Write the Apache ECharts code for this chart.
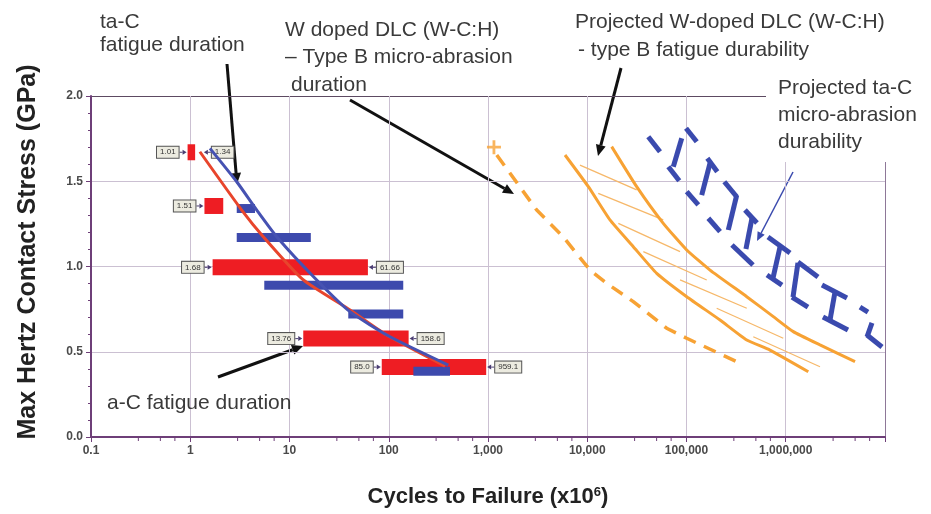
<!DOCTYPE html>
<html><head><meta charset="utf-8">
<script src="https://cdn.jsdelivr.net/npm/echarts@6/dist/echarts.min.js"></script>
<style>html,body{margin:0;padding:0;background:#fff}#c{width:931px;height:514px}</style>
</head><body><div id="c"></div>
<script>
// ---------- DATA ----------
// a-C fatigue duration bars: [start cycles, end cycles, stress GPa]
const aCBars = [
  [0.94, 1.12, 1.67],
  [1.39, 2.15, 1.355],
  [1.68, 61.66, 0.995],
  [13.76, 158.6, 0.577],
  [85.0, 959.1, 0.41]
];
// ta-C fatigue duration bars
const taCBars = [
  [2.94, 4.49, 1.34],
  [2.94, 16.4, 1.17],
  [5.57, 140, 0.89],
  [39.1, 140, 0.722],
  [177, 414, 0.385]
];
// value call-outs: [anchor cycles, stress, text, side(-1 left / 1 right)]
const barLabels = [
  [0.94, 1.67, '1.01', -1],
  [1.34, 1.67, '1.34', 1],
  [1.39, 1.355, '1.51', -1],
  [1.68, 0.995, '1.68', -1],
  [61.66, 0.995, '61.66', 1],
  [13.76, 0.577, '13.76', -1],
  [158.6, 0.577, '158.6', 1],
  [85.0, 0.41, '85.0', -1],
  [959.1, 0.41, '959.1', 1]
];
// fitted curves
const aCFitX = [1.25, 3.30, 5.44, 13.8, 40.7, 95.3, 369];
const aCFitY = [1.673, 1.331, 1.175, 0.921, 0.745, 0.598, 0.416];
const taCFitX = [1.58, 2.94, 4.68, 7.43, 18.8, 40.7, 103, 398];
const taCFitY = [1.693, 1.497, 1.331, 1.175, 0.921, 0.735, 0.588, 0.422];
// W doped DLC type B micro-abrasion duration (dashed) + start marker
const wMicroStart = [1148, 1.70];
const wMicroX = [1225, 3097, 5700, 10660, 15700, 29100, 63100, 100500, 320600];
const wMicroY = [1.654, 1.331, 1.175, 0.979, 0.901, 0.794, 0.638, 0.579, 0.442];
// Projected W-doped DLC fatigue durability band
const wFatLowX = [5970, 10260, 16940, 29100, 50100, 100500, 217800, 404600, 693400, 1687000];
const wFatLowY = [1.654, 1.468, 1.273, 1.116, 0.960, 0.823, 0.686, 0.569, 0.510, 0.383];
const wFatHighX = [17620, 31480, 58340, 100500, 172600, 404600, 749900, 1191000, 2213000, 4989000];
const wFatHighY = [1.703, 1.468, 1.253, 1.097, 0.979, 0.823, 0.706, 0.618, 0.540, 0.442];
// hatch strokes inside the band: [x1, y1, x2, y2]
const wFatHatch = [
  [8450, 1.595, 31480, 1.449],
  [12910, 1.429, 58340, 1.273],
  [20560, 1.253, 86100, 1.087],
  [36730, 1.087, 159900, 0.921],
  [86100, 0.921, 404600, 0.755],
  [201400, 0.755, 944000, 0.579],
  [471000, 0.588, 2213000, 0.412]
];
// Projected ta-C micro-abrasion durability strokes: [x1, y1, x2, y2]
const taCMicro = [
  [41210, 1.761, 54080, 1.673],
  [98860, 1.811, 126800, 1.732],
  [89540, 1.752, 73620, 1.585],
  [65610, 1.585, 84530, 1.503],
  [162200, 1.635, 204200, 1.556],
  [172600, 1.607, 142300, 1.419],
  [100500, 1.439, 131500, 1.361],
  [240400, 1.497, 320600, 1.409],
  [320600, 1.419, 263600, 1.214],
  [166000, 1.283, 217800, 1.204],
  [388200, 1.331, 512900, 1.255],
  [457100, 1.284, 397200, 1.103],
  [287100, 1.126, 467700, 1.009],
  [662200, 1.173, 1104000, 1.079],
  [875000, 1.114, 744700, 0.933],
  [647100, 0.950, 916200, 0.891],
  [1327000, 1.026, 2113000, 0.938],
  [1327000, 1.021, 1183000, 0.821],
  [1156000, 0.821, 1675000, 0.762],
  [2317000, 0.891, 4140000, 0.815],
  [3133000, 0.850, 2793000, 0.686],
  [2371000, 0.704, 4236000, 0.628],
  [5598000, 0.762, 6739000, 0.733],
  [7392000, 0.669, 6590000, 0.587],
  [6590000, 0.598, 9333000, 0.528]
];
const xMinorTicks = [0.3,0.5,0.7,3,5,7,30,50,70,300,500,700,3000,5000,7000,30000,50000,70000,300000,500000,700000,3e6,5e6,7e6];

// ---------- CHART ----------
const FONT = "'Liberation Sans', Arial, sans-serif";
const chart = echarts.init(document.getElementById('c'), null, {renderer: 'canvas'});

function zip(xs, ys) { return xs.map((x, i) => [x, ys[i]]); }

function barSeries(name, bars, h, color, z) {
  return {
    name, type: 'custom', z, silent: true,
    data: bars,
    encode: {x: [0, 1], y: 2},
    renderItem(params, api) {
      const p1 = api.coord([api.value(0), api.value(2)]);
      const p2 = api.coord([api.value(1), api.value(2)]);
      return {type: 'rect', shape: {x: p1[0], y: p1[1] - h / 2, width: p2[0] - p1[0], height: h}, style: {fill: color}};
    }
  };
}

function lineSeries(name, data, color, width, type, smooth, z) {
  return {
    name, type: 'line', data, smooth: smooth || false, symbol: 'none', showSymbol: false, silent: true, z: z || 3,
    lineStyle: {color, width, type: type || 'solid', cap: 'butt'}
  };
}

const series = [
  barSeries('a-C bars', aCBars, 16, '#ee1d23', 3),
  {
    name: 'labels', type: 'custom', z: 3, silent: true,
    data: barLabels.map(l => [l[0], l[1], l[3]]),
    encode: {x: 0, y: 1},
    renderItem(params, api) {
      const p = api.coord([api.value(0), api.value(1)]);
      const side = api.value(2);
      const txt = barLabels[params.dataIndex][2];
      const tip = p[0] + side * 1;
      const tail = p[0] + side * 8;
      const back = tip + side * 4;
      return {
        type: 'group', children: [
          {type: 'line', shape: {x1: tail, y1: p[1], x2: back, y2: p[1]}, style: {stroke: '#4a3d72', lineWidth: 1}},
          {type: 'polygon', shape: {points: [[tip, p[1]], [back, p[1] - 2.5], [back, p[1] + 2.5]]}, style: {fill: '#4a3d72'}},
          {type: 'text', x: tail + side * 1, y: p[1], style: {
            text: txt, font: '8px ' + FONT, fill: '#333', align: side < 0 ? 'right' : 'left', verticalAlign: 'middle',
            backgroundColor: '#ecebe0', borderColor: '#555', borderWidth: 1, padding: [2, 3, 1, 3]
          }}
        ]
      };
    }
  },
  barSeries('ta-C bars', taCBars, 9, '#3d4aad', 4),
  lineSeries('a-C fit', zip(aCFitX, aCFitY), '#e8452c', 3, 'solid', 0.2, 5),
  lineSeries('ta-C fit', zip(taCFitX, taCFitY), '#4652b2', 3, 'solid', 0.2, 5),
  {
    name: 'start', type: 'scatter', data: [wMicroStart], silent: true, z: 5,
    symbol: 'path://M4,0H6V4H10V6H6V10H4V6H0V4H4Z', symbolSize: 14,
    itemStyle: {color: '#f7a234'}
  },
  lineSeries('W micro-abrasion', zip(wMicroX, wMicroY), '#f7a234', 3.5, [13, 9], false, 5),
  lineSeries('W fatigue low', zip(wFatLowX, wFatLowY), '#f7a234', 3, 'solid', 0.15, 5),
  lineSeries('W fatigue high', zip(wFatHighX, wFatHighY), '#f7a234', 3, 'solid', 0.15, 5)
];
wFatHatch.forEach((s, i) => series.push(lineSeries('hatch' + i, [[s[0], s[1]], [s[2], s[3]]], '#f6b86a', 1.3, 'solid', false, 4)));
taCMicro.forEach((s, i) => series.push(lineSeries('taC micro ' + i, [[s[0], s[1]], [s[2], s[3]]], '#3a4aae', 5, 'solid', false, 5)));
series.push({
  name: 'minor ticks', type: 'custom', silent: true, z: 6, clip: false,
  data: xMinorTicks.map(v => [v, 0]), encode: {x: 0, y: 1},
  renderItem(params, api) {
    const p = api.coord([api.value(0), 0]);
    return {type: 'line', shape: {x1: p[0], y1: p[1], x2: p[0], y2: p[1] + 4}, style: {stroke: '#6e3f78', lineWidth: 1}};
  }
});

function arrow(x1, y1, x2, y2, color, w, hl, hw) {
  const dx = x2 - x1, dy = y2 - y1, L = Math.sqrt(dx * dx + dy * dy);
  const ux = dx / L, uy = dy / L;
  const bx = x2 - ux * hl, by = y2 - uy * hl;
  return {
    type: 'group', z: 120, children: [
      {type: 'line', shape: {x1, y1, x2: bx, y2: by}, style: {stroke: color, lineWidth: w}},
      {type: 'polygon', shape: {points: [[x2, y2], [bx - uy * hw, by + ux * hw], [bx + uy * hw, by - ux * hw]]}, style: {fill: color}}
    ]
  };
}
function txt(x, y, t) {
  return {type: 'text', x, y, z: 110, style: {text: t, font: '21px ' + FONT, fill: '#3a3a3a', verticalAlign: 'top'}};
}

const graphic = [
  {type: 'rect', z: 100, shape: {x: 766, y: 84, width: 165, height: 78}, style: {fill: '#fff'}},
  txt(100, 12, 'ta-C'),
  txt(100, 35, 'fatigue duration'),
  txt(285, 20, 'W doped DLC (W-C:H)'),
  txt(285, 47, '– Type B micro-abrasion'),
  txt(291, 75, 'duration'),
  txt(575, 12, 'Projected W-doped DLC (W-C:H)'),
  txt(578, 40, '- type B fatigue durability'),
  txt(778, 78, 'Projected ta-C'),
  txt(778, 105, 'micro-abrasion'),
  txt(778, 132, 'durability'),
  txt(107, 393, 'a-C fatigue duration'),
  {type: 'text', x: 28, y: 252, rotation: Math.PI / 2, z: 110,
   style: {text: 'Max Hertz Contact Stress (GPa)', font: 'bold 25px ' + FONT, fill: '#222', align: 'center', verticalAlign: 'middle'}},
  arrow(227, 64, 237, 184, '#111', 3, 11, 5),
  arrow(350, 100, 514, 194, '#111', 3, 11, 5),
  arrow(621, 68, 598, 156, '#111', 3, 11, 5),
  arrow(218, 377, 303, 346, '#111', 3, 11, 5),
  arrow(793, 172, 757, 241, '#3a4aae', 1.5, 9, 4)
];

const xSplitColors = ['#cbc0d2','#cbc0d2','#cbc0d2','#cbc0d2','#cbc0d2','#cbc0d2','#cbc0d2','#cbc0d2','#8e7898'];
const ySplitColors = ['#cbc0d2','#cbc0d2','#cbc0d2','#cbc0d2','#5d4a62'];

chart.setOption({
  animation: false,
  backgroundColor: '#fff',
  grid: {left: 91, right: 46, top: 96, bottom: 77, containLabel: false},
  xAxis: {
    type: 'log', logBase: 10, min: 0.1, max: 1e7, splitNumber: 10,
    name: '{a|Cycles to Failure (x10}{s|6}{a|)}', nameLocation: 'middle', nameGap: 49,
    nameTextStyle: {rich: {
      a: {fontSize: 22, fontWeight: 'bold', fontFamily: FONT, color: '#222'},
      s: {fontSize: 13, fontWeight: 'bold', fontFamily: FONT, color: '#222', verticalAlign: 'top'}
    }},
    axisLine: {show: true, onZero: false, lineStyle: {color: '#6e3f78', width: 2}},
    axisTick: {show: true, length: 5, lineStyle: {color: '#6e3f78'}},
    axisLabel: {
      fontSize: 12, fontWeight: 'bold', fontFamily: FONT, color: '#4a4a4a', margin: 8,
      formatter(v) {
        if (v >= 9.9e6) return '';
        if (v < 1) return '0.1';
        return String(Math.round(v)).replace(/\B(?=(\d{3})+(?!\d))/g, ',');
      }
    },
    splitLine: {show: true, lineStyle: {color: xSplitColors, width: 1}}
  },
  yAxis: {
    type: 'value', min: 0, max: 2, interval: 0.5,
    axisLine: {show: true, lineStyle: {color: '#6e3f78', width: 2}},
    axisTick: {show: true, length: 5, lineStyle: {color: '#6e3f78'}},
    minorTick: {show: true, splitNumber: 5, length: 3, lineStyle: {color: '#6e3f78'}},
    axisLabel: {fontSize: 12, fontWeight: 'bold', fontFamily: FONT, color: '#4a4a4a', margin: 8, formatter: v => v.toFixed(1)},
    splitLine: {show: true, lineStyle: {color: ySplitColors, width: 1}}
  },
  series,
  graphic
});
</script></body></html>
